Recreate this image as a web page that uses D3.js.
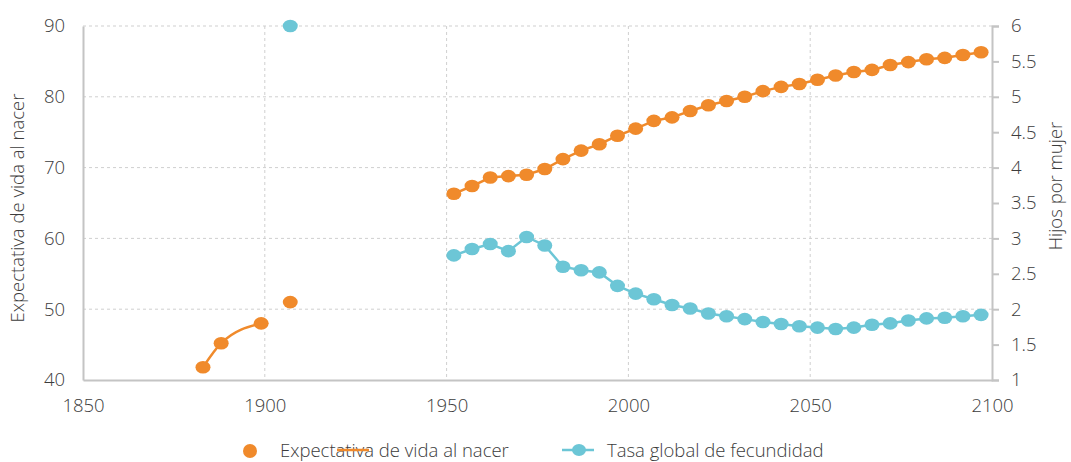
<!DOCTYPE html>
<html lang="es">
<head>
<meta charset="UTF-8">
<title>Expectativa de vida y fecundidad</title>
<script src="https://cdn.jsdelivr.net/npm/d3@7"></script>
<style>
  body { margin: 0; background: #fff; }
  text { font-family: "Open Sans", "Noto Sans", sans-serif; font-weight: 300; fill: #3c3c3c; }
</style>
</head>
<body>
<div id="chart"></div>
<script>
    // Early estimates (1880s - 1900s)
    const earlyYears = [1883, 1888, 1899];
    const earlyLife = [41.8, 45.2, 48.0];
    const isolatedYear = 1907;
    const isolatedLife = 51.0;
    const isolatedFert = 6.0;

    // 5-year periods, 1950-1955 ... 2095-2100
    const years = [1952, 1957, 1962, 1967, 1972, 1977, 1982, 1987, 1992, 1997,
                   2002, 2007, 2012, 2017, 2022, 2027, 2032, 2037, 2042, 2047,
                   2052, 2057, 2062, 2067, 2072, 2077, 2082, 2087, 2092, 2097];
    const lifeExp = [66.3, 67.4, 68.6, 68.8, 69.0, 69.8, 71.2, 72.4, 73.3, 74.5,
                     75.5, 76.6, 77.1, 78.0, 78.8, 79.4, 80.0, 80.8, 81.4, 81.8,
                     82.4, 83.0, 83.5, 83.8, 84.5, 84.9, 85.3, 85.5, 85.9, 86.3];
    const fertility = [2.76, 2.85, 2.92, 2.82, 3.02, 2.90, 2.60, 2.55, 2.52, 2.33,
                       2.22, 2.14, 2.06, 2.01, 1.94, 1.90, 1.86, 1.82, 1.79, 1.76,
                       1.74, 1.72, 1.74, 1.78, 1.80, 1.84, 1.87, 1.88, 1.90, 1.92];

    const xTicks = [1850, 1900, 1950, 2000, 2050, 2100];
    const leftTicks = [40, 50, 60, 70, 80, 90];
    const rightTicks = [1, 1.5, 2, 2.5, 3, 3.5, 4, 4.5, 5, 5.5, 6];

    const orange = "#f08a2b";
    const teal = "#6cc6d6";
    const axisGray = "#c4c4c4";
    const fontSize = "18.5px";

    const W = 1071, H = 462;
    const margin = { top: 26, right: 79, bottom: 82, left: 83 },
        width = W - margin.left - margin.right,
        height = H - margin.top - margin.bottom;

    const svg = d3.select("#chart").append("svg")
        .attr("width", W)
        .attr("height", H);

    const g = svg.append("g")
        .attr("transform", `translate(${margin.left},${margin.top})`);

    const x = d3.scaleLinear().domain([1850, 2100]).range([0, width]);
    const yL = d3.scaleLinear().domain([40, 90]).range([height, 0]);
    const yR = d3.scaleLinear().domain([1, 6]).range([height, 0]);

    // gridlines
    g.append("g").selectAll("line")
        .data(leftTicks.slice(1))
        .enter().append("line")
        .attr("x1", 0).attr("x2", width)
        .attr("y1", d => yL(d)).attr("y2", d => yL(d))
        .attr("stroke", "#cfcfcf").attr("stroke-dasharray", "3,3");
    g.append("g").selectAll("line")
        .data(xTicks.slice(1, -1))
        .enter().append("line")
        .attr("x1", d => x(d)).attr("x2", d => x(d))
        .attr("y1", 0).attr("y2", height)
        .attr("stroke", "#cfcfcf").attr("stroke-dasharray", "3,3");

    // axes
    const bottomAxis = g.append("g")
        .attr("transform", `translate(0,${height})`)
        .call(d3.axisBottom(x).tickValues(xTicks).tickFormat(d3.format("d")).tickSize(0).tickPadding(19));
    const leftAxis = g.append("g")
        .call(d3.axisLeft(yL).tickValues(leftTicks).tickSize(0).tickPadding(18));
    const rightAxis = g.append("g")
        .attr("transform", `translate(${width},0)`)
        .call(d3.axisRight(yR).tickValues(rightTicks).tickFormat(d => String(d)).tickSize(7).tickPadding(12));

    [bottomAxis, leftAxis, rightAxis].forEach(a => {
        a.select(".domain").attr("stroke", axisGray).attr("stroke-width", 2);
        a.selectAll(".tick line").attr("stroke", axisGray).attr("stroke-width", 2);
        a.selectAll(".tick text").attr("fill", "#3c3c3c").style("font-size", fontSize);
    });

    // axis titles
    svg.append("text")
        .attr("transform", `translate(24,${margin.top + 182}) rotate(-90)`)
        .attr("text-anchor", "middle")
        .style("font-size", fontSize)
        .text("Expectativa de vida al nacer");
    svg.append("text")
        .attr("transform", `translate(1062,${margin.top + 160}) rotate(-90)`)
        .attr("text-anchor", "middle")
        .style("font-size", fontSize)
        .text("Hijos por mujer");

    // series
    const lineL = d3.line().x(d => x(d[0])).y(d => yL(d[1]));
    const lineR = d3.line().x(d => x(d[0])).y(d => yR(d[1]));

    const earlyPts = earlyYears.map((yr, i) => [yr, earlyLife[i]]);
    const lifePts = years.map((yr, i) => [yr, lifeExp[i]]);
    const fertPts = years.map((yr, i) => [yr, fertility[i]]);

    g.append("path").datum(earlyPts).attr("d", lineL.curve(d3.curveMonotoneX))
        .attr("fill", "none").attr("stroke", orange).attr("stroke-width", 2.5);
    g.append("path").datum(lifePts).attr("d", lineL.curve(d3.curveLinear))
        .attr("fill", "none").attr("stroke", orange).attr("stroke-width", 2.5);
    g.append("path").datum(fertPts).attr("d", lineR)
        .attr("fill", "none").attr("stroke", teal).attr("stroke-width", 2.5);

    const rx = 7.5, ry = 6.3;
    g.append("g").selectAll("ellipse")
        .data(earlyPts.concat([[isolatedYear, isolatedLife]], lifePts))
        .enter().append("ellipse")
        .attr("cx", d => x(d[0])).attr("cy", d => yL(d[1]))
        .attr("rx", rx).attr("ry", ry).attr("fill", orange);
    g.append("g").selectAll("ellipse")
        .data([[isolatedYear, isolatedFert]].concat(fertPts))
        .enter().append("ellipse")
        .attr("cx", d => x(d[0])).attr("cy", d => yR(d[1]))
        .attr("rx", rx).attr("ry", ry).attr("fill", teal);

    // legend
    const legend = svg.append("g").attr("transform", "translate(0,451)");
    legend.append("ellipse").attr("cx", 250).attr("cy", 0).attr("rx", 7).attr("ry", 7).attr("fill", orange);
    legend.append("text").attr("x", 280).attr("y", 0).attr("dy", "0.35em")
        .style("font-size", fontSize).text("Expectativa de vida al nacer");
    legend.append("line").attr("x1", 337).attr("x2", 369).attr("y1", -1).attr("y2", -1)
        .attr("stroke", orange).attr("stroke-width", 2.5);

    legend.append("line").attr("x1", 562).attr("x2", 594).attr("y1", -1).attr("y2", -1)
        .attr("stroke", teal).attr("stroke-width", 2.5);
    legend.append("ellipse").attr("cx", 579).attr("cy", -1).attr("rx", 7).attr("ry", 6).attr("fill", teal);
    legend.append("text").attr("x", 607).attr("y", 0).attr("dy", "0.35em")
        .style("font-size", fontSize).text("Tasa global de fecundidad");
</script>
</body>
</html>
